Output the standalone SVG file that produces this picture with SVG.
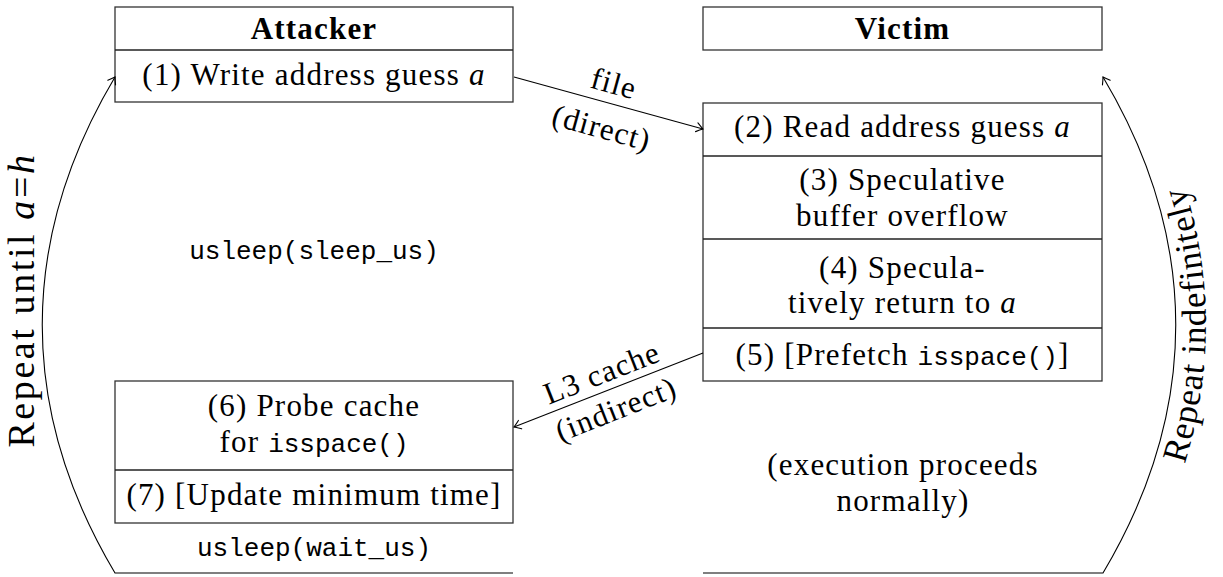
<svg xmlns="http://www.w3.org/2000/svg" xmlns:xlink="http://www.w3.org/1999/xlink" width="1223" height="577" viewBox="0 0 1223 577">
<style>
.box{fill:#fff;stroke:#333;stroke-width:1.3}
.div{stroke:#222;stroke-width:1.3}
.t{font-family:"Liberation Serif","DejaVu Serif",serif;font-size:31px;letter-spacing:1.2px;text-anchor:middle;fill:#000}
.b{font-weight:bold}
.m{font-family:"Liberation Mono","DejaVu Sans Mono",monospace;font-size:26px;letter-spacing:0}
.i{font-style:italic}
.r{font-size:38px;letter-spacing:2.6px}
.r2{font-size:35px;letter-spacing:0.8px}
.c{fill:none;stroke:#000;stroke-width:1.1}
</style>
<defs>
<marker id="arr" markerUnits="userSpaceOnUse" markerWidth="14" markerHeight="14" viewBox="-10 -7 14 14" refX="0" refY="0" orient="auto" overflow="visible">
<path d="M-6.5,-4.5 C-4.2,-2.8 -1.6,-1 0,0 C-1.6,1 -4.2,2.8 -6.5,4.5" fill="none" stroke="#000" stroke-width="1.1" stroke-linecap="round"/>
</marker>
<path id="rp" d="M1128.8,588.3 C1231.6,415.5 1231.6,234.5 1128.8,61.7"/>
</defs>

<g id="attacker">
<rect class="box" x="115" y="7" width="398" height="95"/>
<line class="div" x1="115" y1="50" x2="513" y2="50"/>
<text class="t b" x="314" y="39">Attacker</text>
<text class="t" x="314" y="85">(1) Write address guess <tspan class="i">a</tspan></text>
</g>

<g id="attacker-sleep">
<text class="t m" x="314" y="259">usleep(sleep_us)</text>
</g>

<g id="attacker-probe">
<rect class="box" x="115" y="381" width="398" height="142"/>
<line class="div" x1="115" y1="470" x2="513" y2="470"/>
<text class="t" x="314" y="416">(6) Probe cache</text>
<text class="t" x="314" y="452">for <tspan class="m">isspace()</tspan></text>
<text class="t" x="314" y="505">(7) [Update minimum time]</text>
</g>

<g id="attacker-wait">
<text class="t m" x="314" y="556">usleep(wait_us)</text>
</g>

<g id="victim">
<rect class="box" x="703" y="7" width="399" height="43"/>
<text class="t b" x="902.5" y="39">Victim</text>
</g>

<g id="victim-steps">
<rect class="box" x="703" y="103" width="399" height="278"/>
<line class="div" x1="703" y1="156" x2="1102" y2="156"/>
<line class="div" x1="703" y1="239" x2="1102" y2="239"/>
<line class="div" x1="703" y1="328" x2="1102" y2="328"/>
<text class="t" x="902.5" y="137">(2) Read address guess <tspan class="i">a</tspan></text>
<text class="t" x="902.5" y="190">(3) Speculative</text>
<text class="t" x="902.5" y="226">buffer overflow</text>
<text class="t" x="902.5" y="278">(4) Specula-</text>
<text class="t" x="902.5" y="313">tively return to <tspan class="i">a</tspan></text>
<text class="t" x="902.5" y="365">(5) [Prefetch <tspan class="m">isspace()</tspan>]</text>
</g>

<g id="victim-normal">
<text class="t" x="903" y="475">(execution proceeds</text>
<text class="t" x="903" y="511">normally)</text>
</g>

<g id="connectors">
<path class="c" d="M514,77 L703,129" marker-end="url(#arr)"/>
<path class="c" d="M703,353 L514,427" marker-end="url(#arr)"/>
<path class="c" d="M513,573 L115,573 C18,410 18,240 115,77" marker-end="url(#arr)"/>
<path class="c" d="M703,573 L1103,573 C1200,410 1200,240 1103,77" marker-end="url(#arr)"/>
<g transform="translate(608.5,103) rotate(15.4)">
<text class="t" x="0" y="-10">file</text>
<text class="t" x="0" y="36">(direct)</text>
</g>
<g transform="translate(608.5,390) rotate(-21.4)">
<text class="t" x="0" y="-8">L3 cache</text>
<text class="t" x="0" y="31">(indirect)</text>
</g>
<text class="t r" transform="translate(34,300) rotate(-90)">Repeat until <tspan class="i">a</tspan>=<tspan class="i">h</tspan></text>
<text class="t r2"><textPath xlink:href="#rp" href="#rp" startOffset="50%">Repeat indefinitely</textPath></text>
</g>
</svg>
